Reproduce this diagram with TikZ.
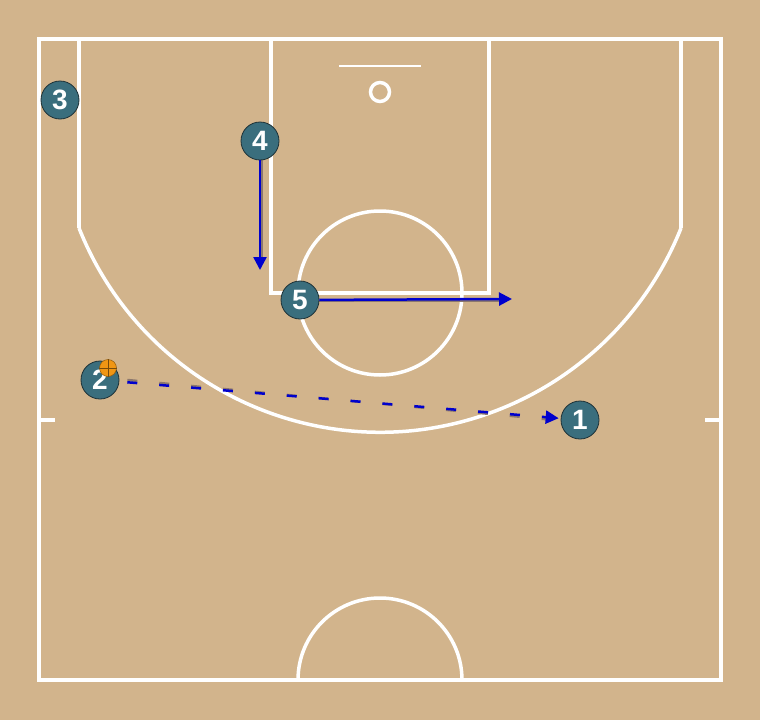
\documentclass[tikz,border=0pt]{standalone}
\usepackage{fontspec}
\setmainfont{Liberation Sans}
\usetikzlibrary{arrows.meta}
\definecolor{court}{RGB}{210,180,140}
\definecolor{plfill}{RGB}{58,110,125}
\definecolor{plborder}{RGB}{30,50,55}
\definecolor{mvblue}{RGB}{0,0,205}
\definecolor{shadowc}{RGB}{140,120,110}
\definecolor{ballc}{RGB}{240,150,20}
\begin{document}
\begin{tikzpicture}[x=1pt,y=-1pt,
  courtline/.style={white,line width=3.5pt},
  player/.style={circle,fill=plfill,draw=plborder,line width=0.8pt,minimum size=38pt,inner sep=0pt,text=white,font=\fontsize{28}{28}\bfseries\selectfont},
  move/.style={mvblue,line width=2.5pt,-{Triangle[length=13pt,width=13pt]}},
  moveshadow/.style={shadowc,line width=2.5pt},
  pass/.style={mvblue,line width=2.5pt,dash pattern=on 10pt off 22pt,-{Triangle[length=13pt,width=13pt]}},
  passshadow/.style={shadowc,line width=2.5pt,dash pattern=on 10pt off 22pt}]
\fill[court] (0,0) rectangle (760,720);
\useasboundingbox (0,0) rectangle (760,720);
% court
\draw[courtline] (39,39) rectangle (721,680);
\draw[courtline] (79,39) -- (79,228);
\draw[courtline] (681,39) -- (681,228);
\draw[courtline] (79,228) arc[start angle=158.3,end angle=21.7,radius=324];
\draw[courtline] (271,39) -- (271,293) -- (489,293) -- (489,39);
\draw[courtline] (380,293) circle[radius=82];
\draw[white,line width=2pt] (339,66) -- (421,66);
\draw[courtline] (380,92) circle[radius=9.5];
\draw[courtline] (298,680) arc[start angle=180,end angle=360,radius=82];
\draw[courtline] (39,420) -- (55,420);
\draw[courtline] (705,420) -- (721,420);
% coordinates
\coordinate (e4) at (260,270);
\coordinate (e5) at (512,299);
% shadows
\draw[moveshadow] (262,160) -- (262,262);
\draw[moveshadow] (319,301) -- (505,301);
% players
\node[player] (p1) at (580,420) {1};
\node[player] (p2) at (100,380) {2};
\node[player] (p3) at (60,100) {3};
\node[player] (p4) at (260,141) {4};
\node[player] (p5) at (300,300) {5};
% ball
\node[circle,fill=ballc,draw=ballc!60!black,line width=0.5pt,minimum size=17pt,inner sep=0pt] (ball) at (108,368) {};
\draw[ballc!50!black,line width=0.5pt] (ball.north) -- (ball.south) (ball.west) -- (ball.east);
% movements
\draw[passshadow,shift={(0,2.5)}] ([xshift=8pt]p2.east) -- ([xshift=-6pt]p1.west);
\draw[pass,shorten <=8pt,shorten >=2pt] (p2) -- (p1);
\draw[move] (p4) -- (e4);
\draw[move] (p5) -- (e5);
\end{tikzpicture}
\end{document}
